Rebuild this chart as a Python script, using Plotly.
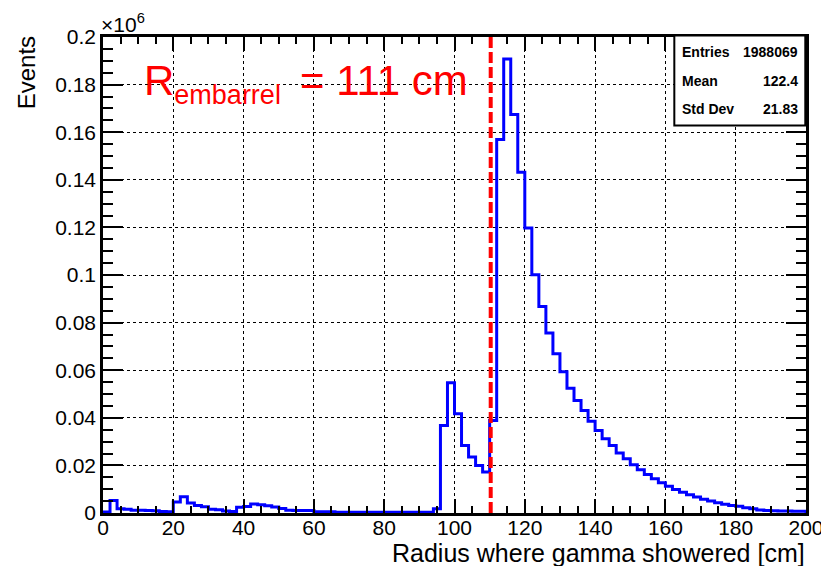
import plotly.graph_objects as go

# ---------------- data (values in units of 10^6 events, 2 cm bins from 0 to 200 cm) ----------------
bin_edges = list(range(0, 201, 2))
events_1e6 = [
    0.0004, 0.0052, 0.0018, 0.0016, 0.0012, 0.0012, 0.0010, 0.0009, 0.0006, 0.0005,   # 0-20
    0.0046, 0.0068, 0.0042, 0.0031, 0.0026, 0.0016, 0.0014, 0.0008, 0.0006, 0.0024,   # 20-40
    0.0027, 0.0038, 0.0035, 0.0030, 0.0025, 0.0019, 0.0012, 0.0011, 0.0011, 0.0010,   # 40-60
    0.0005, 0.0005, 0.0005, 0.0003, 0.0003, 0.0003, 0.0003, 0.0003, 0.0003, 0.0003,   # 60-80
    0.0003, 0.0003, 0.0003, 0.0003, 0.0003, 0.0003, 0.0003, 0.0018, 0.0368, 0.0547,   # 80-100
    0.0417, 0.0284, 0.0235, 0.0200, 0.0172, 0.0389, 0.1569, 0.1908, 0.1674, 0.1432,   # 100-120
    0.1197, 0.1001, 0.0868, 0.0756, 0.0669, 0.0594, 0.0524, 0.0473, 0.0431, 0.0386,   # 120-140
    0.0347, 0.0312, 0.0284, 0.0252, 0.0228, 0.0203, 0.0182, 0.0162, 0.0144, 0.0127,   # 140-160
    0.0112, 0.0099, 0.0087, 0.0077, 0.0067, 0.0058, 0.0050, 0.0043, 0.0037, 0.0032,   # 160-180
    0.0028, 0.0022, 0.0018, 0.0013, 0.0011, 0.0009, 0.0008, 0.0008, 0.0007, 0.0007,   # 180-200
]
x_ticks = [0, 20, 40, 60, 80, 100, 120, 140, 160, 180, 200]
x_ticktext = ["0", "20", "40", "60", "80", "100", "120", "140", "160", "180", "200"]
y_ticks = [0, 0.02, 0.04, 0.06, 0.08, 0.1, 0.12, 0.14, 0.16, 0.18, 0.2]
y_ticktext = ["0", "0.02", "0.04", "0.06", "0.08", "0.1", "0.12", "0.14", "0.16", "0.18", "0.2"]
r_embarrel_line = 110.3
stats_labels = ["Entries", "Mean", "Std Dev"]
stats_values = ["1988069", "122.4", "21.83"]

FONT = "Liberation Sans, Arial, Helvetica, sans-serif"

# step outline of the histogram
xs = [bin_edges[0]] + bin_edges[:-1] + [bin_edges[-1], bin_edges[-1]]
ys = [0] + events_1e6 + [events_1e6[-1], 0]

fig = go.Figure()
fig.add_trace(go.Scatter(
    x=xs, y=ys, mode="lines", line=dict(color="#0000ff", width=3, shape="hv"),
    hoverinfo="skip", showlegend=False,
))

axis_common = dict(
    showline=True, linecolor="black", linewidth=2.5, mirror="ticks",
    ticks="inside", tickcolor="black", tickwidth=2,
    showgrid=True, gridcolor="black", gridwidth=1, griddash="dot",
    zeroline=False, tickfont=dict(family=FONT, size=21, color="black"),
)

fig.update_xaxes(
    range=[0, 200], tickvals=x_ticks, ticktext=x_ticktext, ticklen=14,
    ticklabelstandoff=-6,
    minor=dict(dtick=5, tick0=0, ticks="inside", ticklen=7, tickwidth=2, tickcolor="black", showgrid=False),
    **axis_common,
)
fig.update_yaxes(
    range=[0, 0.2], tickvals=y_ticks, ticktext=y_ticktext, ticklen=20,
    minor=dict(dtick=0.005, tick0=0, ticks="inside", ticklen=10, tickwidth=2, tickcolor="black", showgrid=False),
    **axis_common,
)

# page offset (body margin) of the rendered figure
OFF = 8
W, H = 829, 566
# target frame in screen pixels
SX0, SX1, SY0, SY1 = 102.6, 805.7, 36.6, 512.6
L, T = SX0 - OFF, SY0 - OFF
R, B = W - (SX1 - OFF), H - (SY1 - OFF)


def px(xpix):
    return (xpix - SX0) / (SX1 - SX0)


def py(ypix):
    return (SY1 - ypix) / (SY1 - SY0)


shapes = [
    dict(type="line", xref="x", yref="y", x0=r_embarrel_line, x1=r_embarrel_line, y0=0, y1=0.2,
         line=dict(color="#ff0000", width=4, dash="11px,4px"), layer="above"),
    dict(type="rect", xref="paper", yref="paper", x0=px(674), x1=px(805), y0=py(125), y1=py(35),
         line=dict(color="black", width=2), fillcolor="white", layer="above"),
]

annotations = [
    dict(text="Events", textangle=-90, xref="paper", yref="paper", x=px(26), y=py(34),
         xanchor="center", yanchor="top", showarrow=False,
         font=dict(family=FONT, size=24, color="black")),
    dict(text="Radius where gamma showered [cm]", xref="paper", yref="paper", x=px(807), y=py(553),
         xanchor="right", yanchor="middle", showarrow=False,
         font=dict(family=FONT, size=25, color="black")),
    dict(text="×10<sup>6</sup>", xref="paper", yref="paper", x=px(99), y=py(23),
         xanchor="left", yanchor="middle", showarrow=False,
         font=dict(family=FONT, size=21, color="black")),
    dict(text='R<sub><span style="font-size:27px">embarrel&nbsp;</span></sub> = 111 cm',
         xref="paper", yref="paper", x=px(142), y=py(83),
         xanchor="left", yanchor="middle", showarrow=False,
         font=dict(family=FONT, size=42, color="#ff0000")),
]
for lab, val, ypix in zip(stats_labels, stats_values, [52, 81, 109]):
    annotations.append(dict(text="<b>" + lab + "</b>", xref="paper", yref="paper", x=px(680), y=py(ypix),
                            xanchor="left", yanchor="middle", showarrow=False,
                            font=dict(family=FONT, size=14, color="black")))
    annotations.append(dict(text="<b>" + val + "</b>", xref="paper", yref="paper", x=px(799.5), y=py(ypix),
                            xanchor="right", yanchor="middle", showarrow=False,
                            font=dict(family=FONT, size=14, color="black")))

fig.update_layout(
    width=W, height=H, autosize=False,
    margin=dict(l=L, r=R, t=T, b=B, pad=0),
    plot_bgcolor="white", paper_bgcolor="white",
    shapes=shapes, annotations=annotations, showlegend=False,
    font=dict(family=FONT, color="black"),
)

fig.write_html("out.html")
